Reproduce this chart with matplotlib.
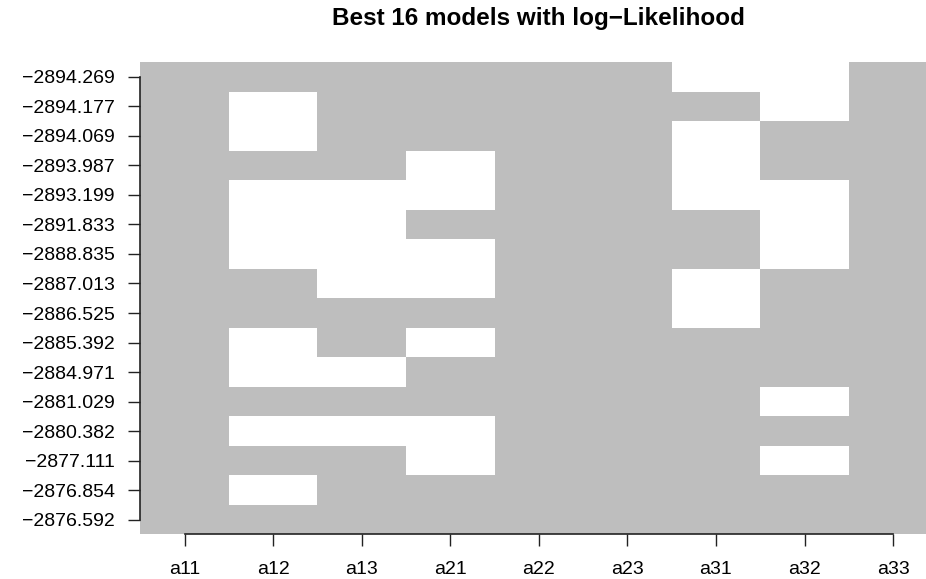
import matplotlib
matplotlib.use("Agg")
import matplotlib.pyplot as plt
from matplotlib.colors import ListedColormap
import numpy as np

plt.rcParams['font.family'] = ['Liberation Sans', 'DejaVu Sans']

# candidate terms (columns) and log-likelihood of each model (rows, best first)
terms = ["a11", "a12", "a13", "a21", "a22", "a23", "a31", "a32", "a33"]
loglik = [-2894.269, -2894.177, -2894.069, -2893.987, -2893.199, -2891.833,
          -2888.835, -2887.013, -2886.525, -2885.392, -2884.971, -2881.029,
          -2880.382, -2877.111, -2876.854, -2876.592]

# 1 = term in the model, 0 = term dropped
included = [
    [1, 1, 1, 1, 1, 1, 0, 0, 1],
    [1, 0, 1, 1, 1, 1, 1, 0, 1],
    [1, 0, 1, 1, 1, 1, 0, 1, 1],
    [1, 1, 1, 0, 1, 1, 0, 1, 1],
    [1, 0, 0, 0, 1, 1, 0, 0, 1],
    [1, 0, 0, 1, 1, 1, 1, 0, 1],
    [1, 0, 0, 0, 1, 1, 1, 0, 1],
    [1, 1, 0, 0, 1, 1, 0, 1, 1],
    [1, 1, 1, 1, 1, 1, 0, 1, 1],
    [1, 0, 1, 0, 1, 1, 1, 1, 1],
    [1, 0, 0, 1, 1, 1, 1, 1, 1],
    [1, 1, 1, 1, 1, 1, 1, 0, 1],
    [1, 0, 0, 0, 1, 1, 1, 1, 1],
    [1, 1, 1, 0, 1, 1, 1, 0, 1],
    [1, 0, 1, 1, 1, 1, 1, 1, 1],
    [1, 1, 1, 1, 1, 1, 1, 1, 1],
]

fig = plt.figure(figsize=(9.26, 5.79), dpi=100)
ax = fig.add_axes([0.1516, 0.0769, 0.8607, 0.816])

grid = np.array(included)
cmap = ListedColormap(["white", "#BEBEBE"])
ax.pcolormesh(np.arange(len(terms) + 1) - 0.5,
              np.arange(len(loglik) + 1) - 0.5,
              grid, cmap=cmap, vmin=0, vmax=1)

ax.set_xlim(-0.5, len(terms) - 0.5)
ax.set_ylim(len(loglik) - 0.5, -0.5)

ax.set_xticks(range(len(terms)))
ax.set_xticklabels(terms)
ax.set_yticks(range(len(loglik)))
ax.set_yticklabels([f"{v:.3f}".replace("-", "\u2212") for v in loglik])

ax.tick_params(axis="both", length=8.6, width=1.0, color="#222222",
               labelsize=14, pad=10)
ax.tick_params(axis="x", pad=10.5)

for side in ["top", "right"]:
    ax.spines[side].set_visible(False)
ax.spines["left"].set_bounds(0, len(loglik) - 1)
ax.spines["bottom"].set_bounds(0, len(terms) - 1)
for side in ["left", "bottom"]:
    ax.spines[side].set_linewidth(1.2)
    ax.spines[side].set_color("#222222")

fig.text(0.5815, 1 - 25 / 579, "Best 16 models with log\u2212Likelihood",
         ha="center", va="baseline", fontsize=17.5, fontweight="bold")

fig.savefig("out.png", dpi=100)
